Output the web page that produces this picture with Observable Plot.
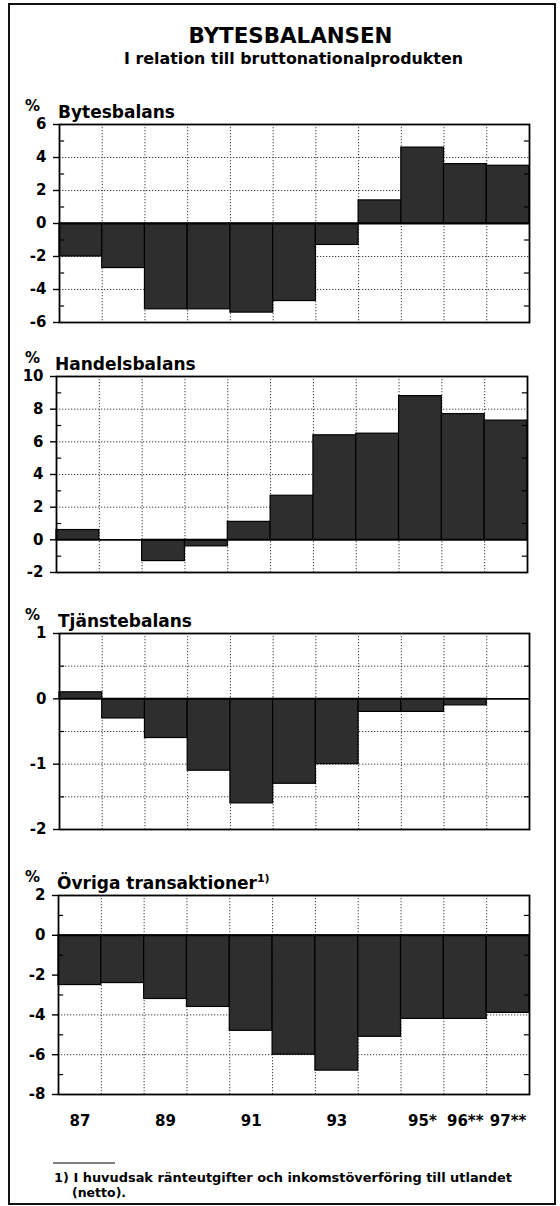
<!DOCTYPE html>
<html>
<head>
<meta charset="utf-8">
<script src="https://cdn.jsdelivr.net/npm/d3@7"></script>
<script src="https://cdn.jsdelivr.net/npm/@observablehq/plot@0.6"></script>
<style>
  html, body { margin: 0; padding: 0; background: #fff; }
  #page { position: relative; width: 560px; height: 1206px; overflow: hidden; background: #fff; }
  #page svg { position: absolute; left: 0; }
</style>
</head>
<body>
<div id="page"></div>
<script>
// ---- data ----
const years = ["87", "88", "89", "90", "91", "92", "93", "94", "95", "96", "97"];
const yearLabels = ["87", "", "89", "", "91", "", "93", "", "95*", "96**", "97**"];
const bytesbalans   = [-2.0, -2.7, -5.2, -5.2, -5.4, -4.7, -1.3, 1.4, 4.6, 3.6, 3.5];
const handelsbalans = [0.6, 0.0, -1.3, -0.4, 1.1, 2.7, 6.4, 6.5, 8.8, 7.7, 7.3];
const tjanstebalans = [0.1, -0.3, -0.6, -1.1, -1.6, -1.3, -1.0, -0.2, -0.2, -0.1, 0.0];
const ovriga        = [-2.5, -2.4, -3.2, -3.6, -4.8, -6.0, -6.8, -5.1, -4.2, -4.2, -3.9];
const ticks1 = [-6, -4, -2, 0, 2, 4, 6];
const ticks2 = [-2, 0, 2, 4, 6, 8, 10];
const ticks3 = [-2, -1, 0, 1];
const ticks4 = [-8, -6, -4, -2, 0, 2];
const mainTitle = "BYTESBALANSEN";
const subTitle = "I relation till bruttonationalprodukten";
const footLine1 = "1) I huvudsak ränteutgifter och inkomstöverföring till utlandet";
const footLine2 = "(netto).";

const FONT = "'DejaVu Sans', 'Liberation Sans', Arial, sans-serif";

const panels = [
  {title: "Bytesbalans", sup: "", values: bytesbalans, domain: [-6, 6], ticks: ticks1,
   grid: [-4, -2, 2, 4], minor: [-5, -3, -1, 1, 3, 5], top: 124, bottom: 322, left: 59, right: 529},
  {title: "Handelsbalans", sup: "", values: handelsbalans, domain: [-2, 10], ticks: ticks2,
   grid: [2, 4, 6, 8], minor: [-1, 1, 3, 5, 7, 9], top: 376, bottom: 572, left: 56, right: 527},
  {title: "Tjänstebalans", sup: "", values: tjanstebalans, domain: [-2, 1], ticks: ticks3,
   grid: [-1.5, -1, -0.5, 0.5], minor: [-1.5, -0.5, 0.5], top: 633, bottom: 829, left: 59, right: 529},
  {title: "Övriga transaktioner", sup: "1)", values: ovriga, domain: [-8, 2], ticks: ticks4,
   grid: [-6, -4, -2], minor: [-7, -5, -3, -1, 1], top: 895, bottom: 1094, left: 58, right: 529}
];

const page = document.getElementById("page");

// ---- background: border, titles, footnote ----
const bg = d3.select(page).append("svg")
  .attr("width", 560).attr("height", 1206)
  .style("top", "0px")
  .style("font-family", FONT).style("font-weight", "bold");

bg.append("rect").attr("x", 9).attr("y", 4).attr("width", 546).attr("height", 1200)
  .attr("fill", "none").attr("stroke", "#111").attr("stroke-width", 2);

bg.append("text").attr("x", 290.5).attr("y", 43).attr("text-anchor", "middle")
  .attr("font-size", 21).attr("textLength", 204).attr("lengthAdjust", "spacingAndGlyphs")
  .text(mainTitle);
bg.append("text").attr("x", 293.5).attr("y", 64).attr("text-anchor", "middle")
  .attr("font-size", 16).attr("textLength", 339).attr("lengthAdjust", "spacingAndGlyphs")
  .text(subTitle);

panels.forEach(p => {
  bg.append("text").attr("x", 25).attr("y", p.top - 13).attr("font-size", 15).text("%");
  const t = bg.append("text").attr("x", p.left - 1).attr("y", p.top - 6).attr("font-size", 17);
  t.append("tspan").text(p.title);
  if (p.sup) t.append("tspan").attr("font-size", 11).attr("dy", -7).text(p.sup);
});

bg.append("line").attr("x1", 53).attr("x2", 115).attr("y1", 1163).attr("y2", 1163)
  .attr("stroke", "#000").attr("stroke-width", 1.2);
bg.append("text").attr("x", 54).attr("y", 1182).attr("font-size", 12.5)
  .attr("textLength", 458).attr("lengthAdjust", "spacingAndGlyphs").text(footLine1);
bg.append("text").attr("x", 72).attr("y", 1197).attr("font-size", 12.5).text(footLine2);

// ---- panels ----
panels.forEach((p, k) => {
  const isLast = k === panels.length - 1;
  const mt = 8, mb = isLast ? 42 : 8;
  const data = p.values.map((v, i) => ({i, v, year: years[i]}));
  const chart = Plot.plot({
    width: 560,
    height: p.bottom - p.top + mt + mb,
    marginLeft: p.left,
    marginRight: 560 - p.right,
    marginTop: mt,
    marginBottom: mb,
    x: {domain: [0, years.length], axis: isLast ? undefined : null, label: null},
    y: {domain: p.domain, label: null},
    style: {fontFamily: FONT, fontWeight: "bold", fontSize: "15px", background: "transparent", overflow: "visible", color: "#000"},
    marks: [
      Plot.ruleY(p.grid, {stroke: "#444", strokeWidth: 1, strokeDasharray: "1.3,1.7"}),
      Plot.ruleX(d3.range(1, years.length), {stroke: "#444", strokeWidth: 1, strokeDasharray: "1.3,1.7"}),
      Plot.rect(data, {x1: "i", x2: d => d.i + 1, y1: 0, y2: "v", fill: "#2e2e2e", stroke: "#000", strokeWidth: 1.2}),
      Plot.ruleY([0], {stroke: "#000", strokeWidth: 1.8}),
      Plot.ruleY(p.minor, {x1: 0, x2: 0.12, stroke: "#000", strokeWidth: 1.2}),
      Plot.ruleY(p.minor, {x1: years.length - 0.12, x2: years.length, stroke: "#000", strokeWidth: 1.2}),
      Plot.axisY({ticks: p.ticks, tickSize: 6, tickPadding: 7, tickFormat: d => String(d), strokeWidth: 1.4, label: null}),
      Plot.frame({stroke: "#000", strokeWidth: 1.8}),
      isLast ? Plot.axisX({ticks: d3.range(years.length).map(i => i + 0.5), tickSize: 0, tickPadding: 21,
        tickFormat: d => yearLabels[Math.floor(d)], label: null}) : null
    ]
  });
  chart.style.position = "absolute";
  chart.style.top = (p.top - mt) + "px";
  chart.style.left = "0px";
  page.appendChild(chart);
});
</script>
</body>
</html>
